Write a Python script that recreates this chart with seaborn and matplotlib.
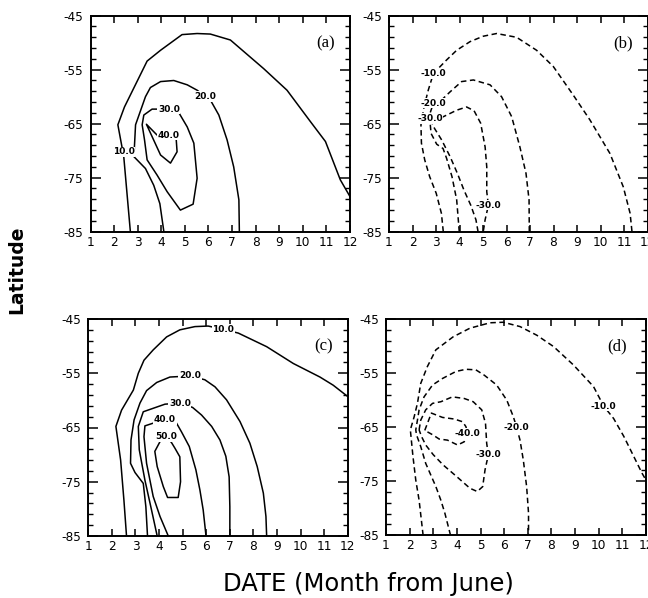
import matplotlib
matplotlib.use("Agg")
import matplotlib.pyplot as plt
import seaborn as sns

sns.set_style("ticks")
plt.rcParams['font.family'] = ['DejaVu Sans']
plt.rcParams.update({'text.color': 'black', 'axes.edgecolor': 'black',
                     'xtick.color': 'black', 'ytick.color': 'black',
                     'axes.labelcolor': 'black'})

# ---------------- axes data ----------------
MONTHS = list(range(1, 13))
LAT_MAJOR = [-45, -55, -65, -75, -85]
LAT_MINOR = [v for v in range(-45, -86, -2) if v not in LAT_MAJOR]

# ---------------- panel (a): solid contours ----------------
a10_month = [2.69, 2.41, 2.16, 2.44, 3.40, 3.97, 4.88, 5.52, 6.08, 6.93, 8.34, 9.33, 10.32, 10.96, 11.59, 12.0]
a10_lat = [-85, -71.1, -65.2, -61.9, -53.4, -51.4, -48.5, -48.3, -48.4, -49.5, -54.8, -58.8, -64.6, -68.3, -75.4, -78.5]
a20_month = [4.11, 3.94, 3.68, 3.33, 2.84, 2.91, 3.33, 3.54, 3.97, 4.53, 5.10, 5.52, 5.87, 6.08, 6.44, 6.79, 7.07, 7.29, 7.31]
a20_lat = [-85, -79.8, -76.4, -73.3, -71.1, -65.2, -60.0, -58.3, -57.2, -57.0, -57.8, -58.8, -60.0, -60.6, -63.4, -68.0, -73.0, -79.1, -85]
a30_month = [4.32, 3.61, 3.26, 3.19, 3.29, 3.40, 3.82, 4.25, 4.81, 5.35, 5.52, 5.38, 5.10, 4.75, 4.32]
a30_lat = [-62.3, -62.3, -63.4, -65.2, -68.0, -71.7, -74.5, -77.6, -81.0, -79.9, -75.1, -68.6, -65.6, -63.0, -62.3]
a40_month = [4.32, 3.82, 3.37, 3.97, 4.39, 4.67, 4.63, 4.32]
a40_lat = [-67.1, -67.1, -65.1, -70.8, -72.3, -70.2, -67.7, -67.1]
a_label_level = [10, 20, 30, 40]
a_label_month = [2.41, 5.87, 4.32, 4.32]
a_label_lat = [-70.2, -60.0, -62.3, -67.1]

# ---------------- panel (b): dashed contours ----------------
b10_month = [3.31, 3.23, 3.01, 2.73, 2.52, 2.38, 2.36, 2.49, 2.67, 2.89, 3.45, 3.88, 4.45, 5.01, 5.58, 6.43, 7.28, 7.99, 8.84, 9.55, 10.40, 10.97, 11.26, 11.34]
b10_lat = [-85, -81.6, -77.9, -74.8, -71.7, -68.6, -65.2, -61.9, -58.8, -55.7, -53.2, -51.4, -49.8, -48.8, -48.3, -49.0, -51.4, -54.4, -59.7, -64.3, -70.5, -76.7, -81.6, -85]
b20_month = [3.99, 3.88, 3.68, 3.45, 3.30, 3.03, 2.79, 2.72, 2.89, 3.24, 3.60, 4.09, 4.59, 5.30, 5.79, 6.22, 6.57, 6.83, 6.96, 6.97]
b20_lat = [-85, -79.1, -74.8, -71.4, -69.6, -68.8, -66.8, -63.4, -61.2, -60.6, -59.1, -57.2, -56.9, -57.8, -60.0, -63.7, -69.3, -74.2, -79.1, -85]
b30_month = [4.79, 4.70, 4.48, 4.19, 3.91, 3.60, 3.24, 2.94, 2.74, 3.17, 3.60, 3.88, 4.30, 4.62, 4.90, 5.09, 5.16, 5.16, 5.23, 5.09, 5.01]
b30_lat = [-85, -82.8, -80.1, -77.3, -74.2, -71.1, -68.0, -65.9, -64.0, -64.0, -63.1, -62.5, -61.9, -62.6, -64.9, -69.3, -73.0, -77.6, -80.1, -82.8, -85]
b_label_level = [-10, -20, -30, -30]
b_label_month = [2.89, 2.89, 2.74, 5.23]
b_label_lat = [-55.7, -61.2, -64.0, -80.1]

# ---------------- panel (c): solid contours ----------------
c10_month = [2.62, 2.51, 2.37, 2.17, 2.41, 2.91, 3.12, 3.36, 3.75, 4.32, 4.88, 5.52, 6.08, 6.72, 7.36, 8.56, 9.69, 10.82, 11.38, 12.0]
c10_lat = [-85, -78.4, -71.0, -64.8, -61.8, -58.1, -55.0, -52.6, -50.7, -48.3, -47.0, -46.4, -46.3, -46.9, -47.6, -50.1, -53.2, -55.7, -57.2, -59.3]
c20_month = [3.51, 3.44, 3.33, 2.98, 2.79, 2.81, 2.94, 3.19, 3.47, 3.90, 4.46, 5.31, 5.94, 6.37, 6.86, 7.43, 7.85, 8.16, 8.42, 8.53, 8.56]
c20_lat = [-85, -79.6, -75.3, -73.3, -71.6, -67.3, -63.6, -60.5, -58.2, -56.7, -55.7, -55.5, -56.2, -57.5, -59.9, -63.9, -67.9, -72.2, -77.1, -81.4, -85]
c30_month = [3.92, 3.68, 3.40, 3.16, 3.12, 3.33, 4.25, 4.88, 5.42, 5.80, 6.23, 6.58, 6.83, 6.97, 7.00, 7.00]
c30_lat = [-85, -80.2, -74.7, -69.1, -64.8, -62.1, -60.7, -60.5, -61.3, -62.7, -64.8, -67.3, -70.3, -74.1, -79.6, -85]
c40_month = [4.39, 4.04, 3.75, 3.47, 3.36, 3.40, 3.75, 4.25, 4.74, 4.95, 5.28, 5.56, 5.73, 5.87, 5.99]
c40_lat = [-85, -81.4, -77.7, -71.6, -66.7, -64.7, -64.2, -63.6, -64.2, -65.8, -68.5, -72.8, -76.5, -80.2, -85]
c50_month = [4.32, 4.04, 3.82, 3.92, 4.18, 4.36, 4.81, 4.91, 4.88, 4.67, 4.53, 4.32]
c50_lat = [-66.7, -67.6, -69.4, -72.2, -75.9, -77.9, -77.9, -75.0, -70.4, -68.8, -67.8, -66.7]
c_label_level = [10, 20, 30, 40, 50]
c_label_month = [6.72, 5.31, 4.88, 4.25, 4.32]
c_label_lat = [-46.9, -55.5, -60.5, -63.6, -66.7]

# ---------------- panel (d): dashed contours ----------------
d10_month = [2.57, 2.40, 2.26, 2.14, 2.03, 2.19, 2.33, 2.47, 2.75, 3.11, 3.84, 4.55, 5.40, 5.96, 6.67, 7.38, 8.09, 8.93, 9.78, 10.21, 10.63, 11.06, 11.48, 11.83, 12.0]
d10_lat = [-85, -78.5, -74.8, -70.4, -65.5, -63.1, -60.6, -56.9, -53.8, -50.7, -48.3, -46.7, -45.7, -45.6, -46.4, -48.0, -50.1, -53.5, -57.5, -61.1, -63.4, -66.7, -70.4, -73.5, -74.8]
d20_month = [3.73, 3.49, 3.32, 3.11, 2.68, 2.47, 2.29, 2.26, 2.33, 2.40, 2.61, 2.97, 3.39, 3.96, 4.38, 4.80, 5.16, 5.68, 6.11, 6.39, 6.53, 6.67, 6.81, 6.95, 7.03, 7.03]
d20_lat = [-85, -80.9, -78.5, -76.0, -71.7, -68.6, -66.4, -65.5, -63.7, -61.8, -59.4, -57.2, -56.0, -54.7, -54.3, -54.4, -55.4, -57.2, -60.0, -63.1, -65.1, -67.4, -71.1, -76.0, -80.9, -85]
d30_month = [2.40, 2.47, 2.68, 2.97, 3.32, 3.81, 4.31, 4.69, 5.05, 5.21, 5.26, 5.33, 5.19, 5.09, 4.86, 4.55, 3.98, 3.42, 3.00, 2.68, 2.50, 2.40]
d30_lat = [-65.5, -63.7, -61.8, -60.6, -60.3, -59.4, -59.7, -60.3, -61.8, -64.3, -68.0, -70.1, -72.9, -76.0, -76.9, -76.3, -74.1, -72.0, -70.1, -68.3, -66.7, -65.5]
d40_month = [2.64, 2.92, 3.39, 3.89, 4.24, 4.38, 4.45, 4.31, 4.03, 3.60, 3.25, 2.97, 2.64]
d40_lat = [-65.6, -62.4, -63.2, -63.5, -64.0, -64.9, -66.1, -67.7, -68.3, -67.4, -67.2, -66.4, -65.6]
d_label_level = [-10, -20, -30, -40]
d_label_month = [10.21, 6.53, 5.33, 4.45]
d_label_lat = [-61.1, -65.1, -70.1, -66.1]

# ---------------- figure ----------------
W, H = 648, 598
fig = plt.figure(figsize=(W / 100, H / 100), dpi=100)


def px_axes(left, top, right, bottom):
    return fig.add_axes([left / W, 1 - bottom / H, (right - left) / W, (bottom - top) / H])


ax_a = px_axes(90.5, 15.7, 350.0, 231.7)
ax_b = px_axes(389.0, 15.7, 647.5, 231.7)
ax_c = px_axes(88.3, 319.0, 347.8, 536.0)
ax_d = px_axes(386.0, 319.0, 646.0, 535.3)

DASH = (0, (3.6, 2.3))


def draw_panel(ax, curves, lab_lv, lab_m, lab_lat, dashed, tag, tag_x, tag_y):
    ls = DASH if dashed else '-'
    for m, lat in curves:
        sns.lineplot(x=m, y=lat, ax=ax, sort=False, estimator=None,
                     color='black', linewidth=1.1, linestyle=ls)
    for lv, m, la in zip(lab_lv, lab_m, lab_lat):
        ax.text(m, la, f"{lv:.1f}", fontsize=6.5, fontweight='bold',
                ha='center', va='center', zorder=5, color='black',
                bbox=dict(boxstyle='square,pad=0.08', fc='white', ec='none'))
    ax.text(tag_x, tag_y, tag, transform=ax.transAxes, fontsize=12, color='black',
            family=['Liberation Serif', 'DejaVu Serif'], ha='center', va='center')
    ax.set_xlim(1, 12)
    ax.set_ylim(-85, -45)
    ax.set_xticks(MONTHS)
    ax.set_xticklabels([str(m) for m in MONTHS])
    ax.set_yticks(LAT_MAJOR)
    ax.set_yticklabels([f"-{abs(v)}" for v in LAT_MAJOR])
    ax.set_yticks(LAT_MINOR, minor=True)
    ax.tick_params(axis='x', which='major', direction='in', length=5, width=1.1,
                   top=True, bottom=True, labelsize=8.7, pad=3, colors='black')
    ax.tick_params(axis='y', which='major', direction='in', length=7, width=1.1,
                   left=True, right=True, labelsize=8.7, pad=5, colors='black')
    ax.tick_params(axis='y', which='minor', direction='in', length=3.5, width=1.0,
                   left=True, right=True, colors='black')
    ax.tick_params(axis='x', which='minor', bottom=False, top=False)
    for s in ax.spines.values():
        s.set_visible(True)
        s.set_linewidth(1.4)
        s.set_color('black')
    ax.set_xlabel('')
    ax.set_ylabel('')
    ax.grid(False)


draw_panel(ax_a, [(a10_month, a10_lat), (a20_month, a20_lat), (a30_month, a30_lat), (a40_month, a40_lat)],
           a_label_level, a_label_month, a_label_lat, False, '(a)', 0.904, 0.874)
draw_panel(ax_b, [(b10_month, b10_lat), (b20_month, b20_lat), (b30_month, b30_lat)],
           b_label_level, b_label_month, b_label_lat, True, '(b)', 0.905, 0.874)
draw_panel(ax_c, [(c10_month, c10_lat), (c20_month, c20_lat), (c30_month, c30_lat),
                  (c40_month, c40_lat), (c50_month, c50_lat)],
           c_label_level, c_label_month, c_label_lat, False, '(c)', 0.907, 0.872)
draw_panel(ax_d, [(d10_month, d10_lat), (d20_month, d20_lat), (d30_month, d30_lat), (d40_month, d40_lat)],
           d_label_level, d_label_month, d_label_lat, True, '(d)', 0.887, 0.872)

fig.text(16.5 / W, 1 - 270 / H, "Latitude", rotation=90, fontsize=13.5, fontweight='bold',
         ha='center', va='center', color='black')
fig.text(368 / W, 1 - 591.5 / H, "DATE (Month from June)", fontsize=17.5,
         ha='center', va='baseline', color='black')

fig.savefig("out.png", dpi=100)
